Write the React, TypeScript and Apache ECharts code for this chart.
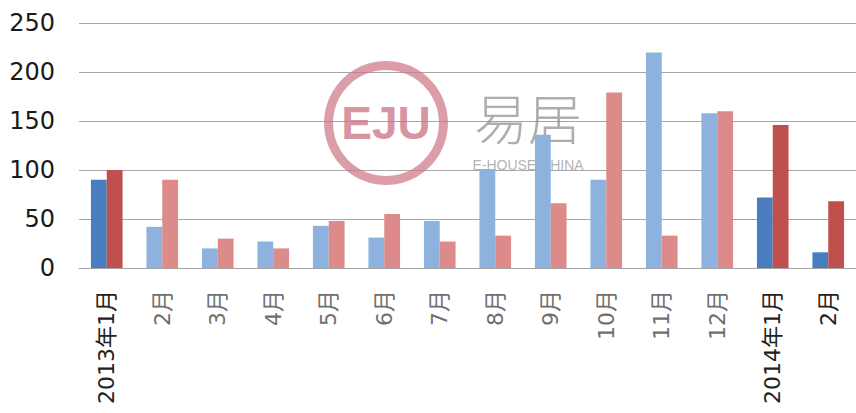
import React, { useEffect, useRef } from "react";
import * as echarts from "echarts";

const categories = ["2013年1月", "2月", "3月", "4月", "5月", "6月", "7月", "8月", "9月", "10月", "11月", "12月", "2014年1月", "2月"];
const blueValues = [90, 42, 20, 27, 43, 31, 48, 101, 136, 90, 220, 158, 72, 16];
const redValues = [100, 90, 30, 20, 48, 55, 27, 33, 66, 179, 33, 160, 146, 68];
const yTicks = [0, 50, 100, 150, 200, 250];
const darkIndices = [0, 12, 13];

const DARK_BLUE = "#4A7DBD";
const LIGHT_BLUE = "#8DB2DD";
const DARK_RED = "#C0504D";
const LIGHT_RED = "#DC8A8A";

export default function App() {
  const ref = useRef<HTMLDivElement>(null);
  useEffect(() => {
    document.body.style.margin = "0";
    if (!ref.current) return;
    const chart = echarts.init(ref.current, undefined, { renderer: "svg" });
    const mk = (vals: number[], dark: string, light: string) =>
      vals.map((v, i) => ({
        value: v,
        itemStyle: { color: darkIndices.includes(i) ? dark : light },
      }));
    chart.setOption({
      animation: false,
      backgroundColor: "#ffffff",
      grid: { left: 79, right: -1, top: 23, bottom: 145, containLabel: false },
      xAxis: {
        type: "category",
        data: categories,
        axisLine: { show: true, lineStyle: { color: "#a6a6a6", width: 1 } },
        axisTick: { show: false },
        axisLabel: {
          rotate: 90,
          interval: 0,
          margin: 22,
          fontSize: 22,
          fontFamily: "DejaVu Sans, Noto Sans CJK SC, sans-serif",
          color: (_v: any, i: number) => (darkIndices.includes(i) ? "#222222" : "#6f6f6f"),
        },
      },
      yAxis: {
        type: "value",
        min: yTicks[0],
        max: yTicks[yTicks.length - 1],
        interval: 50,
        axisLine: { show: false },
        axisTick: { show: false },
        splitLine: { show: true, lineStyle: { color: "#a6a6a6", width: 1 } },
        axisLabel: {
          fontSize: 24,
          margin: 24,
          color: "#1a1a1a",
          fontFamily: "DejaVu Sans, sans-serif",
        },
      },
      graphic: [
        {
          type: "ring",
          z: 1,
          shape: { cx: 386, cy: 123, r: 62, r0: 53 },
          style: { fill: "rgba(205,120,135,0.72)" },
        },
        {
          type: "text",
          z: 1,
          x: 386,
          y: 123,
          style: {
            text: "EJU",
            fill: "rgba(205,120,135,0.8)",
            font: "bold 46px 'Liberation Sans', sans-serif",
            align: "center",
            verticalAlign: "middle",
          },
        },
        {
          type: "text",
          z: 1,
          x: 528,
          y: 116,
          style: {
            text: "易居",
            fill: "rgba(140,140,140,0.7)",
            font: "300 54px 'Noto Sans CJK SC', sans-serif",
            lineHeight: 48,
            align: "center",
            verticalAlign: "middle",
          },
        },
        {
          type: "text",
          z: 1,
          x: 528,
          y: 165,
          style: {
            text: "E-HOUSE CHINA",
            fill: "rgba(160,160,160,0.8)",
            font: "14px 'Liberation Sans', sans-serif",
            align: "center",
            verticalAlign: "middle",
          },
        },
      ],
      series: [
        {
          type: "bar",
          data: mk(blueValues, DARK_BLUE, LIGHT_BLUE),
          barGap: "0%",
          barCategoryGap: "43%",
          z: 3,
        },
        {
          type: "bar",
          data: mk(redValues, DARK_RED, LIGHT_RED),
          barGap: "0%",
          barCategoryGap: "43%",
          z: 3,
        },
      ],
    });
    return () => chart.dispose();
  }, []);
  return <div ref={ref} style={{ width: 856, height: 413 }} />;
}
